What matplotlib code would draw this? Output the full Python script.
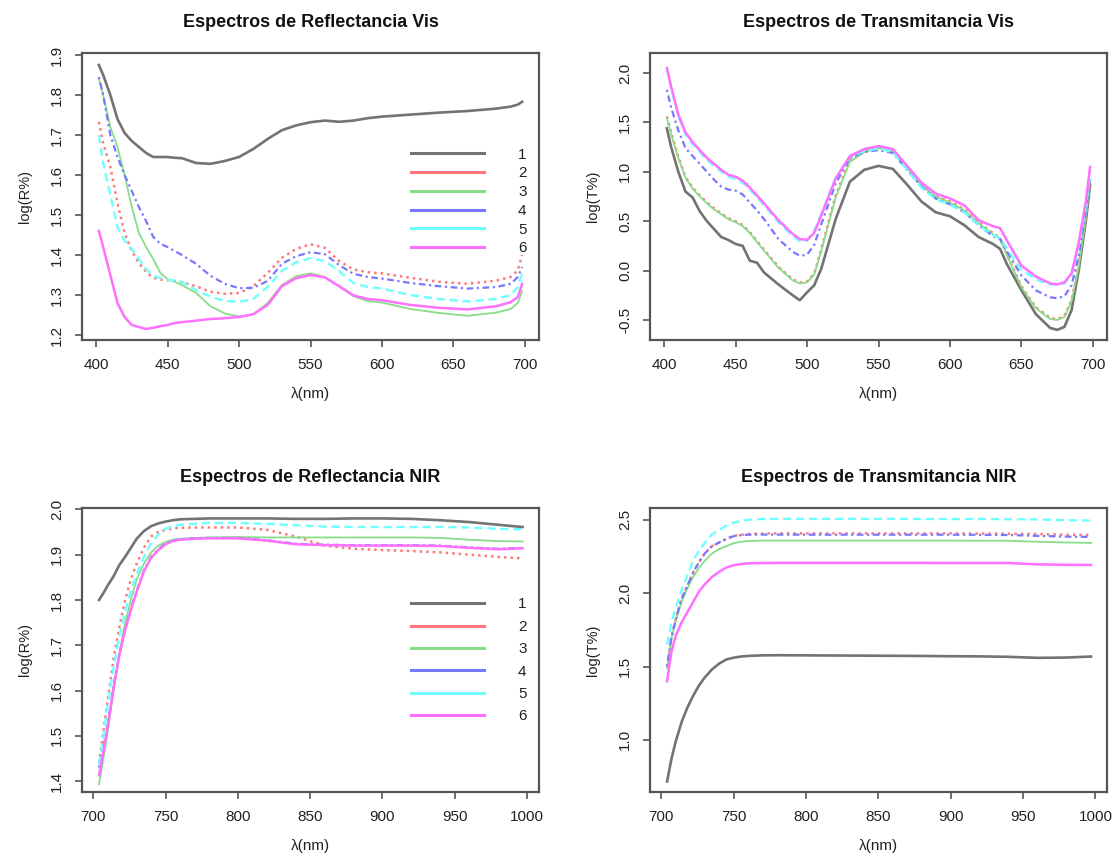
import numpy as np
import matplotlib
matplotlib.use("Agg")
import matplotlib.pyplot as plt
from matplotlib.lines import Line2D

plt.rcParams['font.family'] = ['Liberation Sans', 'DejaVu Sans']

#%% Data
# Visible range wavelengths (nm)
wl_vis_r = [402, 405, 410, 415, 420, 425, 430, 435, 440, 445, 450, 455, 460, 470, 480, 490,
            500, 510, 520, 530, 540, 550, 560, 570, 580, 590, 600, 620, 640, 660, 680, 690, 695, 698]

# Reflectance Vis, log(R%)
refl_vis_1 = [1.875, 1.85, 1.80, 1.74, 1.705, 1.685, 1.67, 1.655, 1.645, 1.645, 1.645, 1.643, 1.642, 1.630, 1.628, 1.635,
              1.645, 1.665, 1.69, 1.712, 1.724, 1.732, 1.736, 1.733, 1.736, 1.742, 1.746, 1.751, 1.756, 1.760, 1.766, 1.771, 1.776, 1.783]
refl_vis_2 = [1.733, 1.68, 1.62, 1.53, 1.455, 1.41, 1.38, 1.358, 1.343, 1.339, 1.337, 1.335, 1.332, 1.322, 1.308, 1.303,
              1.305, 1.322, 1.355, 1.393, 1.415, 1.427, 1.418, 1.385, 1.364, 1.357, 1.354, 1.343, 1.333, 1.328, 1.336, 1.345, 1.362, 1.40]
refl_vis_3 = [1.84, 1.80, 1.72, 1.67, 1.60, 1.52, 1.455, 1.42, 1.39, 1.355, 1.34, 1.333, 1.325, 1.305, 1.272, 1.254,
              1.246, 1.252, 1.28, 1.325, 1.347, 1.354, 1.345, 1.322, 1.297, 1.285, 1.281, 1.265, 1.255, 1.248, 1.256, 1.265, 1.28, 1.31]
refl_vis_4 = [1.845, 1.80, 1.70, 1.645, 1.60, 1.56, 1.52, 1.485, 1.445, 1.428, 1.42, 1.41, 1.40, 1.378, 1.348, 1.328,
              1.317, 1.318, 1.335, 1.378, 1.397, 1.407, 1.402, 1.375, 1.353, 1.345, 1.341, 1.33, 1.322, 1.316, 1.32, 1.328, 1.345, 1.37]
refl_vis_5 = [1.70, 1.63, 1.55, 1.47, 1.435, 1.415, 1.39, 1.365, 1.348, 1.342, 1.338, 1.336, 1.333, 1.312, 1.296, 1.285,
              1.283, 1.29, 1.32, 1.36, 1.382, 1.392, 1.385, 1.36, 1.33, 1.32, 1.316, 1.30, 1.29, 1.284, 1.29, 1.30, 1.32, 1.355]
refl_vis_6 = [1.46, 1.42, 1.35, 1.28, 1.245, 1.225, 1.22, 1.215, 1.218, 1.222, 1.225, 1.23, 1.232, 1.236, 1.24, 1.242,
              1.245, 1.252, 1.275, 1.322, 1.342, 1.35, 1.344, 1.322, 1.299, 1.290, 1.287, 1.275, 1.268, 1.264, 1.272, 1.282, 1.295, 1.328]

wl_vis_t = [402, 405, 410, 415, 420, 425, 430, 435, 440, 445, 450, 455, 460, 465, 470, 480, 490, 495, 500, 505, 510,
            520, 530, 540, 550, 560, 570, 580, 590, 600, 610, 620, 630, 635, 640, 650, 660, 670, 675, 680, 685, 690, 695, 698]

# Transmittance Vis, log(T%)
tran_vis_1 = [1.44, 1.25, 1.0, 0.80, 0.74, 0.60, 0.50, 0.42, 0.34, 0.31, 0.27, 0.25, 0.10, 0.08, -0.02, -0.14, -0.25, -0.30, -0.22, -0.15, 0.02,
              0.52, 0.90, 1.02, 1.06, 1.03, 0.87, 0.70, 0.59, 0.55, 0.46, 0.34, 0.27, 0.22, 0.06, -0.20, -0.44, -0.58, -0.60, -0.57, -0.40, 0.0, 0.50, 0.87]
tran_vis_2 = [1.56, 1.40, 1.15, 0.95, 0.84, 0.76, 0.69, 0.63, 0.58, 0.53, 0.50, 0.46, 0.39, 0.30, 0.21, 0.04, -0.09, -0.12, -0.11, -0.03, 0.22,
              0.76, 1.12, 1.21, 1.25, 1.22, 1.05, 0.87, 0.76, 0.70, 0.62, 0.49, 0.38, 0.33, 0.16, -0.16, -0.37, -0.48, -0.49, -0.46, -0.30, 0.05, 0.55, 0.93]
tran_vis_3 = [1.54, 1.38, 1.14, 0.94, 0.83, 0.75, 0.68, 0.62, 0.57, 0.52, 0.49, 0.45, 0.38, 0.29, 0.20, 0.03, -0.10, -0.13, -0.12, -0.04, 0.20,
              0.74, 1.10, 1.20, 1.24, 1.21, 1.04, 0.86, 0.75, 0.69, 0.61, 0.48, 0.37, 0.32, 0.15, -0.17, -0.38, -0.49, -0.50, -0.47, -0.31, 0.04, 0.54, 0.92]
tran_vis_4 = [1.83, 1.65, 1.42, 1.24, 1.16, 1.08, 1.00, 0.92, 0.85, 0.82, 0.81, 0.77, 0.69, 0.61, 0.52, 0.32, 0.19, 0.15, 0.16, 0.26, 0.47,
              0.88, 1.14, 1.20, 1.22, 1.19, 1.02, 0.85, 0.73, 0.67, 0.59, 0.46, 0.35, 0.32, 0.19, -0.05, -0.20, -0.27, -0.28, -0.26, -0.15, 0.15, 0.60, 0.95]
tran_vis_5 = [2.06, 1.85, 1.56, 1.38, 1.28, 1.20, 1.12, 1.06, 1.00, 0.95, 0.93, 0.89, 0.82, 0.74, 0.66, 0.49, 0.35, 0.30, 0.30, 0.40, 0.57,
              0.94, 1.15, 1.21, 1.235, 1.20, 1.02, 0.84, 0.72, 0.665, 0.59, 0.46, 0.36, 0.33, 0.22, 0.01, -0.09, -0.14, -0.14, -0.13, -0.05, 0.25, 0.65, 1.0]
tran_vis_6 = [2.05, 1.86, 1.58, 1.40, 1.30, 1.22, 1.14, 1.08, 1.02, 0.97, 0.95, 0.91, 0.84, 0.76, 0.68, 0.51, 0.37, 0.32, 0.31, 0.38, 0.56,
              0.93, 1.16, 1.23, 1.26, 1.23, 1.06, 0.89, 0.78, 0.73, 0.66, 0.51, 0.45, 0.43, 0.30, 0.05, -0.06, -0.13, -0.14, -0.12, -0.03, 0.28, 0.70, 1.05]

# NIR wavelengths (nm)
wl_nir = [704, 707, 710, 714, 718, 722, 726, 730, 735, 740, 745, 750, 755, 760, 770, 780,
          800, 820, 840, 860, 880, 900, 920, 940, 960, 980, 997]

# Reflectance NIR, log(R%)
refl_nir_1 = [1.80, 1.815, 1.832, 1.852, 1.877, 1.895, 1.915, 1.935, 1.952, 1.963, 1.969, 1.973, 1.976, 1.978, 1.979, 1.98,
              1.98, 1.98, 1.979, 1.979, 1.98, 1.98, 1.979, 1.976, 1.972, 1.966, 1.961]
refl_nir_2 = [1.44, 1.51, 1.58, 1.67, 1.74, 1.80, 1.845, 1.88, 1.915, 1.94, 1.95, 1.955, 1.958, 1.959, 1.96, 1.96,
              1.96, 1.955, 1.94, 1.92, 1.913, 1.91, 1.908, 1.905, 1.90, 1.895, 1.892]
refl_nir_3 = [1.393, 1.45, 1.51, 1.60, 1.68, 1.75, 1.80, 1.845, 1.88, 1.905, 1.92, 1.928, 1.933, 1.935, 1.937, 1.938,
              1.939, 1.938, 1.938, 1.938, 1.938, 1.938, 1.938, 1.937, 1.933, 1.93, 1.929]
refl_nir_4 = [1.43, 1.475, 1.525, 1.61, 1.68, 1.735, 1.78, 1.82, 1.865, 1.895, 1.912, 1.925, 1.931, 1.934, 1.936, 1.937,
              1.937, 1.932, 1.924, 1.922, 1.921, 1.921, 1.921, 1.92, 1.916, 1.913, 1.915]
refl_nir_5 = [1.437, 1.50, 1.57, 1.65, 1.72, 1.775, 1.82, 1.857, 1.895, 1.925, 1.945, 1.957, 1.962, 1.966, 1.968, 1.97,
              1.97, 1.968, 1.965, 1.962, 1.961, 1.961, 1.961, 1.961, 1.96, 1.957, 1.956]
refl_nir_6 = [1.413, 1.465, 1.52, 1.605, 1.678, 1.733, 1.778, 1.818, 1.863, 1.893, 1.91, 1.923, 1.93, 1.933, 1.935, 1.936,
              1.936, 1.931, 1.923, 1.921, 1.92, 1.92, 1.92, 1.919, 1.915, 1.912, 1.914]

# Transmittance NIR, log(T%)
tran_nir_1 = [0.717, 0.87, 0.99, 1.12, 1.22, 1.30, 1.37, 1.425, 1.48, 1.52, 1.548, 1.56, 1.568, 1.572, 1.576, 1.577,
              1.576, 1.575, 1.574, 1.573, 1.572, 1.570, 1.569, 1.566, 1.559, 1.561, 1.568]
tran_nir_2 = [1.50, 1.70, 1.82, 1.96, 2.05, 2.14, 2.21, 2.27, 2.32, 2.345, 2.37, 2.39, 2.397, 2.403, 2.406, 2.407,
              2.407, 2.407, 2.407, 2.407, 2.407, 2.407, 2.406, 2.405, 2.403, 2.398, 2.396]
tran_nir_3 = [1.49, 1.69, 1.81, 1.94, 2.03, 2.11, 2.17, 2.22, 2.27, 2.30, 2.32, 2.34, 2.35, 2.355, 2.358, 2.358,
              2.358, 2.358, 2.358, 2.358, 2.358, 2.358, 2.357, 2.357, 2.35, 2.345, 2.342]
tran_nir_4 = [1.50, 1.70, 1.82, 1.96, 2.05, 2.14, 2.21, 2.27, 2.32, 2.345, 2.37, 2.388, 2.395, 2.398, 2.399, 2.399,
              2.398, 2.398, 2.398, 2.398, 2.398, 2.398, 2.397, 2.396, 2.39, 2.385, 2.383]
tran_nir_5 = [1.65, 1.80, 1.90, 2.02, 2.12, 2.22, 2.29, 2.34, 2.40, 2.43, 2.46, 2.48, 2.493, 2.50, 2.505, 2.506,
              2.506, 2.506, 2.506, 2.506, 2.505, 2.505, 2.505, 2.504, 2.502, 2.497, 2.494]
tran_nir_6 = [1.40, 1.60, 1.71, 1.80, 1.87, 1.94, 2.01, 2.06, 2.11, 2.145, 2.175, 2.19, 2.198, 2.203, 2.205, 2.206,
              2.206, 2.206, 2.206, 2.206, 2.206, 2.205, 2.205, 2.205, 2.196, 2.193, 2.192]

labels = ['1', '2', '3', '4', '5', '6']

#%% Styles
colors = ['#737373', '#ff7878', '#88dd88', '#7878ff', '#70ffff', '#ff70ff']
styles = ['-', (0, (1, 1.6)), '-', (0, (1, 1.6, 3, 1.6)), (0, (3.5, 2)), '-']
widths = [1.9, 1.8, 1.3, 1.6, 1.7, 1.8]
txt = '#222222'
axcol = '#555555'


def draw_panel(rect, x, series, title, ylab, xlim, ylim, xticks, yticks, yfmt, legend=None):
    ax = fig.add_axes(rect)
    for s, c, ls, lw in zip(series, colors, styles, widths):
        ax.plot(x, s, color=c, linestyle=ls, linewidth=lw)
    ax.set_xlim(xlim)
    ax.set_ylim(ylim)
    ax.set_xticks(xticks)
    ax.set_yticks(yticks)
    ax.set_yticklabels([yfmt % v for v in yticks], rotation=90, va='center')
    ax.tick_params(direction='out', length=5, width=1.2, colors=axcol, labelcolor=txt,
                   labelsize=11, pad=8)
    for sp in ax.spines.values():
        sp.set_color(axcol)
        sp.set_linewidth(1.6)
    ax.set_title(title, fontsize=13, fontweight='bold', color='#111111', pad=19)
    ax.set_xlabel('λ(nm)', fontsize=11, color=txt, labelpad=11)
    ax.set_ylabel(ylab, fontsize=10.5, color=txt, labelpad=13)
    if legend is not None:
        handles = [Line2D([], [], color=c, lw=2.2) for c in colors]
        ax.legend(handles, labels, loc='upper left', bbox_to_anchor=legend[0],
                  frameon=False, fontsize=11, handlelength=4.8, handletextpad=2.2,
                  labelspacing=legend[1], borderaxespad=0, borderpad=0, labelcolor=txt)
    return ax


fig = plt.figure(figsize=(11.14, 8.63), dpi=100)

left_l, left_r, w = 82 / 1114, 650 / 1114, 457 / 1114
top_b, top_h = 1 - 340 / 863, 287 / 863
bot_b, bot_h = 1 - 792 / 863, 284 / 863

draw_panel([left_l, top_b, w, top_h], wl_vis_r,
           [refl_vis_1, refl_vis_2, refl_vis_3, refl_vis_4, refl_vis_5, refl_vis_6],
           'Espectros de Reflectancia Vis', 'log(R%)', (390.2, 709.8), (1.1875, 1.905),
           np.arange(400, 701, 50), [1.2, 1.3, 1.4, 1.5, 1.6, 1.7, 1.8, 1.9], '%.1f',
           legend=((0.72, 0.67), 0.31))

draw_panel([left_r, top_b, w, top_h], wl_vis_t,
           [tran_vis_1, tran_vis_2, tran_vis_3, tran_vis_4, tran_vis_5, tran_vis_6],
           'Espectros de Transmitancia Vis', 'log(T%)', (390.2, 709.8), (-0.7025, 2.2025),
           np.arange(400, 701, 50), [-0.5, 0.0, 0.5, 1.0, 1.5, 2.0], '%.1f')

draw_panel([left_l, bot_b, w, bot_h], wl_nir,
           [refl_nir_1, refl_nir_2, refl_nir_3, refl_nir_4, refl_nir_5, refl_nir_6],
           'Espectros de Reflectancia NIR', 'log(R%)', (692.2, 1008.3), (1.376, 2.003),
           np.arange(700, 1001, 50), [1.4, 1.5, 1.6, 1.7, 1.8, 1.9, 2.0], '%.1f',
           legend=((0.72, 0.685), 0.55))

draw_panel([left_r, bot_b, w, bot_h], wl_nir,
           [tran_nir_1, tran_nir_2, tran_nir_3, tran_nir_4, tran_nir_5, tran_nir_6],
           'Espectros de Transmitancia NIR', 'log(T%)', (692.2, 1008.0), (0.645, 2.58),
           np.arange(700, 1001, 50), [1.0, 1.5, 2.0, 2.5], '%.1f')

fig.savefig('out.png', dpi=100)
